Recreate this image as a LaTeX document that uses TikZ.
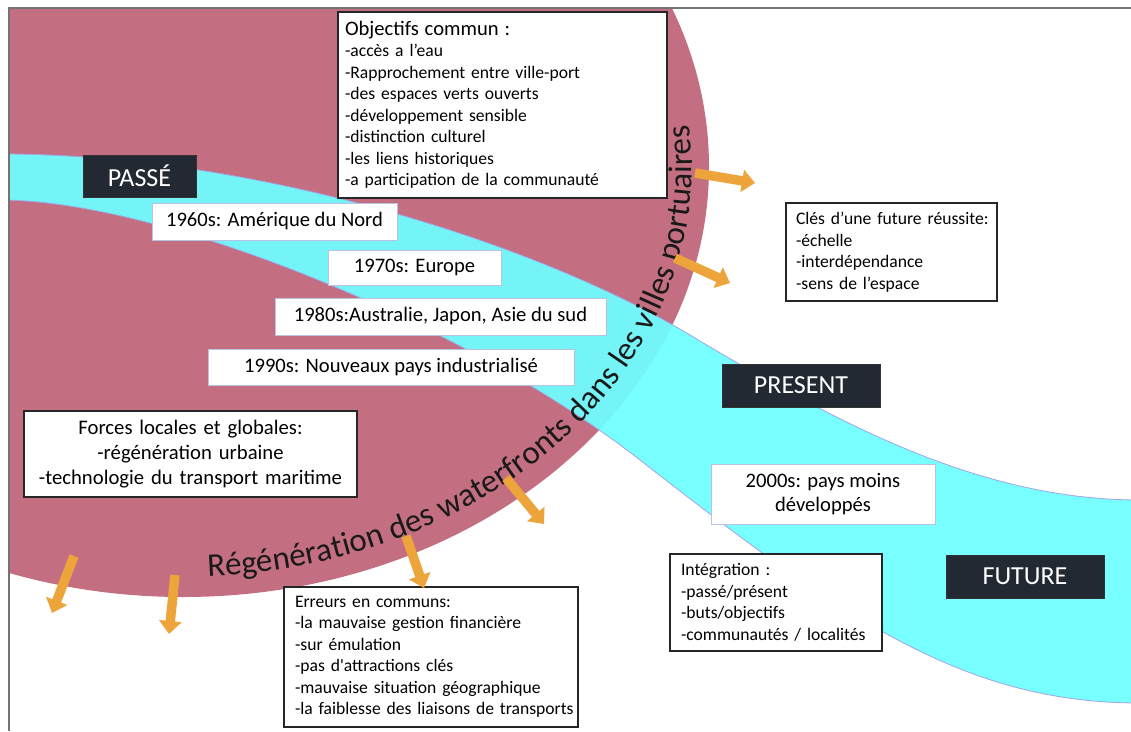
\documentclass[tikz,border=0pt]{standalone}
\usepackage{fontspec}
\setmainfont{Carlito}
\usetikzlibrary{arrows.meta,decorations.text}

\definecolor{rose}{RGB}{195,111,129}
\definecolor{aqua}{RGB}{110,255,255}
\definecolor{rim}{RGB}{160,165,230}
\definecolor{night}{RGB}{35,41,51}
\definecolor{amber}{RGB}{237,164,58}
\definecolor{edge}{RGB}{185,195,225}

\tikzstyle{era}=[fill=night, draw=black!80, text=white, font=\fontsize{26}{30}\selectfont, minimum width=158pt, minimum height=43pt, inner sep=0pt]
\tikzstyle{decade}=[fill=white, draw=edge, line width=1pt, font=\fontsize{20.6}{24}\selectfont, minimum height=37pt, inner sep=0pt]
\tikzstyle{notebox}=[fill=white, draw=black!85, line width=1.3pt, inner sep=0pt, font=\fontsize{17.6}{21.5}\selectfont]
\tikzset{pad/.style={align=left, execute at begin node={\leftskip=#1\rightskip=-40pt plus 1fil\hyphenpenalty=10000\exhyphenpenalty=10000}}}
\tikzstyle{flow}=[line width=9.5pt, draw=amber, -{Triangle[width=22pt,length=13pt]}]
\newcommand{\era}{\node[era]}
\newcommand{\decade}{\node[decade]}
\newcommand{\notebox}{\node[notebox]}

\begin{document}
\begin{tikzpicture}[x=1pt, y=-1pt]
\useasboundingbox (0,0) rectangle (1131,731);

% circle and timeline band
\begin{scope}
\clip (9,8) rectangle (1131,731);
\fill[rose] (183,167) ellipse [x radius=526, y radius=430];
\filldraw[fill=aqua, fill opacity=0.93, draw=rim, line width=0.8pt]
  (0,154) .. controls (259,154) and (540,245) .. (690,335)
  .. controls (840,425) and (981,500) .. (1140,500) -- (1140,703)
  .. controls (961,703) and (840,616) .. (640,460)
  .. controls (460,320) and (159,200) .. (0,200) -- cycle;
\end{scope}

\path[decorate, decoration={text along path, text align=fit to path, text color=black!90,
  text={|\fontsize{33}{36}\selectfont|Régénération des waterfronts dans les villes portuaires}}]
  (183,167) ++(87.2:509 and 410) arc[start angle=87.2, end angle=-5.9, x radius=509, y radius=410];

% periods
\era[minimum width=113pt, minimum height=42pt] (passe) at (139.5,176) {PASSÉ};
\era (present) at (801,385.5) {PRESENT};
\era (future) at (1025,576.5) {FUTURE};

% decades
\decade[minimum width=245pt] (d60) at (274.5,221.5) {1960s: Amérique du Nord};
\decade[minimum width=173pt, minimum height=35pt] (d70) at (414.5,267.5) {1970s: Europe};
\decade[minimum width=331pt] (d80) at (440.5,316.5) {1980s:Australie, Japon, Asie du sud};
\decade[minimum width=366pt, minimum height=36pt] (d90) at (391,367) {1990s: Nouveaux pays industrialisé};
\decade[minimum width=224pt, minimum height=60pt, align=center] (d00) at (823,494) {2000s: pays moins\\développés};

% notes
\notebox[pad=7pt, text width=329pt, minimum height=186pt] (obj) at (502.5,105)
  {{\fontsize{20.6}{24}\selectfont Objectifs commun :}\\-accès a l’eau\\-Rapprochement entre ville-port\\-des espaces verts ouverts\\-développement sensible\\-distinction culturel\\-les liens historiques\\-a participation de la communauté};
\notebox[pad=10pt, text width=211pt, minimum height=98pt] (cles) at (891.5,252)
  {Clés d’une future réussite:\\-échelle\\-interdépendance\\-sens de l’espace};
\notebox[pad=11pt, text width=212pt, minimum height=97pt] (integ) at (776,602.5)
  {Intégration :\\-passé/présent\\-buts/objectifs\\-communautés / localités};
\notebox[pad=11pt, text width=294pt, minimum height=140pt] (err) at (431,657)
  {Erreurs en communs:\\-la mauvaise gestion financière\\-sur émulation\\-pas d\textquotesingle attractions clés\\-mauvaise situation géographique\\-la faiblesse des liaisons de transports};
\notebox[text width=333pt, minimum height=86pt, align=center, font=\fontsize{20.7}{25}\selectfont] (forces) at (190.5,454)
  {Forces locales et globales:\\-régénération urbaine\\-technologie du transport maritime};

% arrows
\coordinate (t1) at (695,173); \coordinate (h1) at (755,183);
\coordinate (t2) at (675,258); \coordinate (h2) at (730,283);
\coordinate (t3) at (506,478); \coordinate (h3) at (544,524);
\coordinate (t4) at (406,536); \coordinate (h4) at (424,588);
\coordinate (t5) at (74,556);  \coordinate (h5) at (52,613);
\coordinate (t6) at (175,575); \coordinate (h6) at (169,634);
\foreach \i in {1,...,6}
  \draw[flow] (t\i) -- (h\i);

% frame
\draw[line width=1.8pt, black!55] (9,731) -- (9,8) -- (1131,8);
\end{tikzpicture}
\end{document}
